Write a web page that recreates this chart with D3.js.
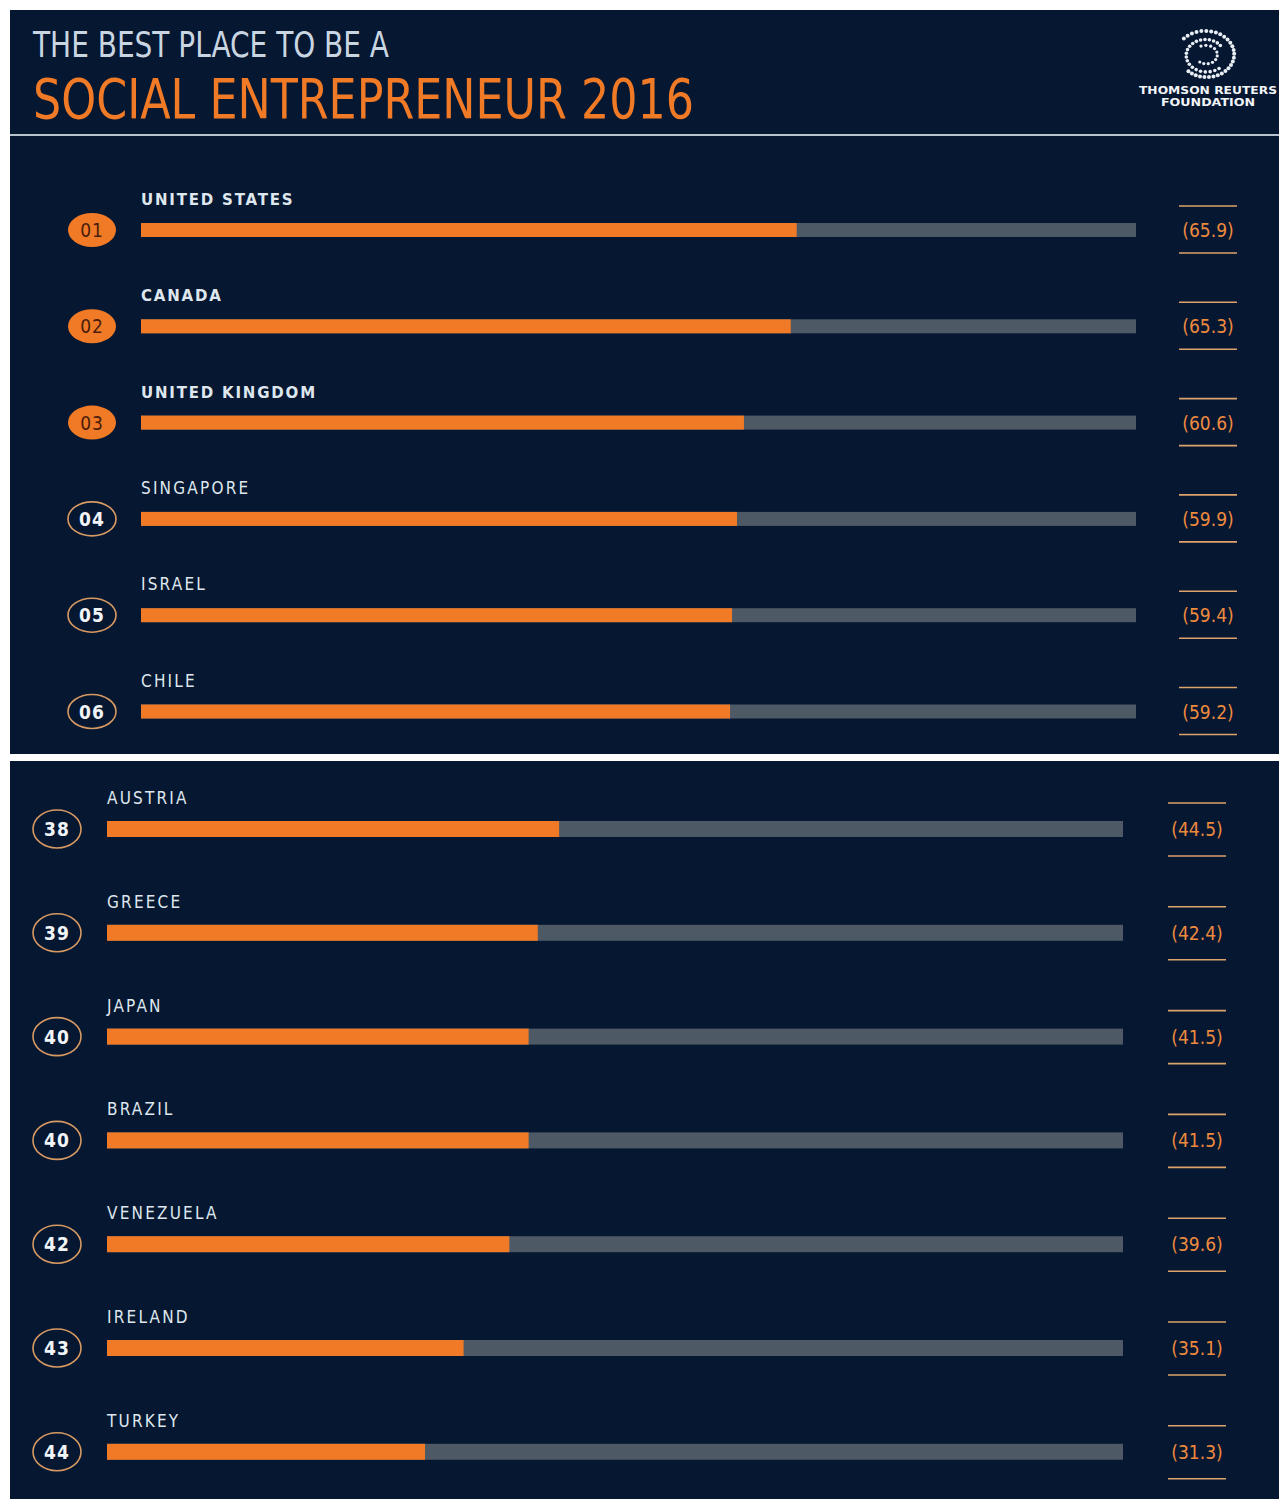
<!DOCTYPE html>
<html>
<head>
<meta charset="utf-8">
<script src="https://cdn.jsdelivr.net/npm/d3@7"></script>
<style>
  body { margin: 0; background: #fff; }
  svg { display: block; }
</style>
</head>
<body>
<div id="chart"></div>
<script>
// ranking data
var topCountries = ["UNITED STATES", "CANADA", "UNITED KINGDOM", "SINGAPORE", "ISRAEL", "CHILE"];
var topRanks = ["01", "02", "03", "04", "05", "06"];
var topScores = [65.9, 65.3, 60.6, 59.9, 59.4, 59.2];

var bottomCountries = ["AUSTRIA", "GREECE", "JAPAN", "BRAZIL", "VENEZUELA", "IRELAND", "TURKEY"];
var bottomRanks = ["38", "39", "40", "40", "42", "43", "44"];
var bottomScores = [44.5, 42.4, 41.5, 41.5, 39.6, 35.1, 31.3];

var scoreMax = 100;

var W = 1279, H = 1499;
var bg = "#061731", orange = "#f07a25", grey = "#4e5966", pale = "#dfe7ee";

var svg = d3.select("#chart").append("svg").attr("width", W).attr("height", H);

function zip(names, ranks, scores) {
  return names.map(function(n, i) { return { name: n, rank: ranks[i], score: scores[i], top3: +ranks[i] <= 3 }; });
}

// one panel of bars
function panel(rows, opt) {
  var g = svg.append("g");
  g.append("rect").attr("x", opt.x0).attr("y", opt.y0).attr("width", opt.x1 - opt.x0).attr("height", opt.y1 - opt.y0).attr("fill", bg);

  var x = d3.scaleLinear().domain([0, scoreMax]).range([opt.barX0, opt.barX1]);
  var step = opt.step;
  var y = d3.scaleBand().domain(rows.map(function(d, i) { return i; }))
    .range([opt.firstY - step / 2, opt.firstY - step / 2 + step * rows.length]).padding(0);
  var cy = function(i) { return y(i) + y.bandwidth() / 2; };

  var row = g.selectAll(".row").data(rows).enter().append("g")
    .attr("transform", function(d, i) { return "translate(0," + cy(i) + ")"; });

  // background track
  row.append("rect").attr("x", x(0)).attr("y", -opt.barH / 2)
    .attr("width", x(scoreMax) - x(0)).attr("height", opt.barH).attr("fill", grey);
  // score bar
  row.append("rect").attr("x", x(0)).attr("y", -opt.barH / 2)
    .attr("width", function(d) { return x(d.score) - x(0); }).attr("height", opt.barH).attr("fill", orange);

  // country label
  row.append("text").attr("x", x(0)).attr("y", opt.labelDy)
    .attr("fill", pale)
    .style("font-family", function(d) { return d.top3 ? "'DejaVu Sans'" : "'DejaVu Sans Condensed', 'DejaVu Sans'"; })
    .style("font-size", function(d) { return d.top3 ? "15px" : "17px"; })
    .style("letter-spacing", function(d) { return d.top3 ? "1.8px" : "2.2px"; })
    .style("font-weight", function(d) { return d.top3 ? "bold" : "normal"; })
    .text(function(d) { return d.name; });

  // rank badge
  row.append("ellipse").attr("cx", opt.circX).attr("cy", 0).attr("rx", 24).attr("ry", opt.circRy)
    .attr("fill", function(d) { return d.top3 ? orange : "none"; })
    .attr("stroke", function(d) { return d.top3 ? "none" : "#d89a62"; })
    .attr("stroke-width", 1.6);
  row.append("text").attr("x", opt.circX).attr("y", 7).attr("text-anchor", "middle")
    .attr("fill", function(d) { return d.top3 ? "#4a1d0c" : "#f2f5f8"; })
    .style("font-family", "'DejaVu Sans Condensed', 'DejaVu Sans'")
    .style("font-weight", function(d) { return d.top3 ? "normal" : "bold"; })
    .style("font-size", "19px")
    .style("letter-spacing", "1px")
    .text(function(d) { return d.rank; });

  // value with rules above and below
  row.append("line").attr("x1", opt.valX - 29).attr("x2", opt.valX + 29)
    .attr("y1", -opt.ruleUp).attr("y2", -opt.ruleUp).attr("stroke", "#dca46a").attr("stroke-width", 1.6);
  row.append("line").attr("x1", opt.valX - 29).attr("x2", opt.valX + 29)
    .attr("y1", opt.ruleDown).attr("y2", opt.ruleDown).attr("stroke", "#dca46a").attr("stroke-width", 1.6);
  row.append("text").attr("x", opt.valX).attr("y", 7).attr("text-anchor", "middle")
    .attr("fill", "#ee8a3e")
    .style("font-family", "'DejaVu Sans Condensed', 'DejaVu Sans'")
    .style("font-size", "19px")
    .text(function(d) { return "(" + d3.format(".1f")(d.score) + ")"; });
}

panel(zip(topCountries, topRanks, topScores), {
  x0: 10, x1: 1279, y0: 10, y1: 754,
  barX0: 141, barX1: 1136, barH: 14, firstY: 230, step: 96.3,
  labelDy: -25, circX: 92, circRy: 17, valX: 1208, ruleUp: 24, ruleDown: 23
});

panel(zip(bottomCountries, bottomRanks, bottomScores), {
  x0: 10, x1: 1279, y0: 761, y1: 1499,
  barX0: 107, barX1: 1123, barH: 16, firstY: 829, step: 103.8,
  labelDy: -25, circX: 57, circRy: 19, valX: 1197, ruleUp: 26, ruleDown: 27
});

// header
var head = svg.append("g");
head.append("text").attr("x", 33).attr("y", 57)
  .attr("fill", "#c9d6e2")
  .style("font-family", "'DejaVu Sans Condensed', 'Liberation Sans Narrow', sans-serif")
  .style("font-size", "35px")
  .attr("textLength", 356).attr("lengthAdjust", "spacingAndGlyphs")
  .text("THE BEST PLACE TO BE A");
head.append("text").attr("x", 33).attr("y", 118)
  .attr("fill", orange)
  .style("font-family", "'DejaVu Sans Condensed', 'Liberation Sans Narrow', sans-serif")
  .style("font-size", "56px")
  .attr("textLength", 661).attr("lengthAdjust", "spacingAndGlyphs")
  .text("SOCIAL ENTREPRENEUR 2016");
head.append("line").attr("x1", 10).attr("x2", 1279).attr("y1", 135).attr("y2", 135)
  .attr("stroke", "#b7c2cc").attr("stroke-width", 2);

// logo: dotted spiral plus name
var logo = head.append("g").attr("transform", "translate(1206,55)");
[{ r: 30, a0: -2.4, a1: 2.3, s: 2.0 }, { r: 21, a0: 0.9, a1: 5.6, s: 1.8 }, { r: 12, a0: -2.0, a1: 2.2, s: 1.6 }].forEach(function(ring) {
  var n = Math.round(ring.r * (ring.a1 - ring.a0) / 5);
  d3.range(n + 1).forEach(function(k) {
    var a = ring.a0 + (ring.a1 - ring.a0) * k / n;
    var rr = ring.r * (1 - 0.12 * k / n);
    logo.append("circle").attr("cx", rr * Math.cos(a)).attr("cy", rr * 0.82 * Math.sin(a))
      .attr("r", ring.s).attr("fill", "#e8eef4");
  });
});
head.append("text").attr("x", 1208).attr("y", 94).attr("text-anchor", "middle")
  .attr("fill", "#f2f5f8").style("font-family", "'DejaVu Sans'").style("font-weight", "bold")
  .style("font-size", "10px").attr("textLength", 138).attr("lengthAdjust", "spacingAndGlyphs")
  .text("THOMSON REUTERS");
head.append("text").attr("x", 1208).attr("y", 106).attr("text-anchor", "middle")
  .attr("fill", "#f2f5f8").style("font-family", "'DejaVu Sans'").style("font-weight", "bold")
  .style("font-size", "10px").attr("textLength", 94).attr("lengthAdjust", "spacingAndGlyphs")
  .text("FOUNDATION");
</script>
</body>
</html>
